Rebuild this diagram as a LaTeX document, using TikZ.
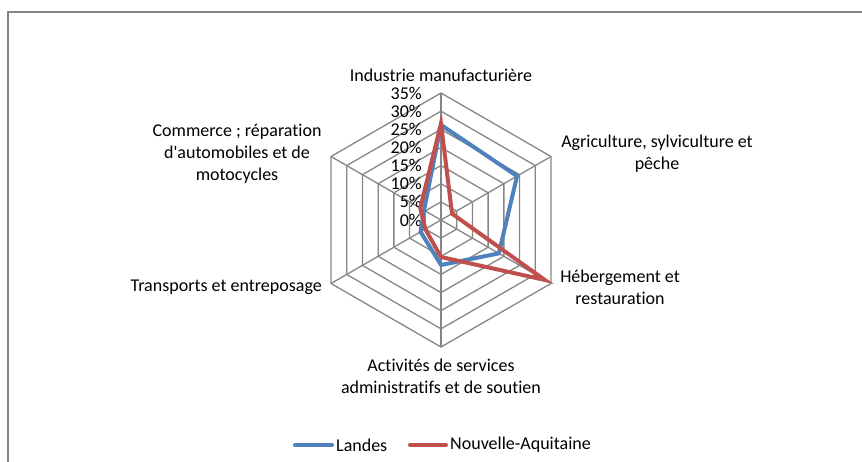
\documentclass[tikz,border=0pt]{standalone}
\usepackage{fontspec}
\setmainfont{Carlito}[Ligatures={TeXOff,NoCommon}]
\definecolor{gridgray}{HTML}{868686}
\definecolor{serblue}{HTML}{4F81BD}
\definecolor{serred}{HTML}{C0504D}
\begin{document}
\begin{tikzpicture}[x=1pt,y=-1pt,
  every node/.style={font=\fontsize{18}{22}\selectfont, inner sep=0pt, text=black},
  frame/.style={draw=gridgray, line width=1.5pt},
  gridline/.style={draw=gridgray, line width=1.3pt},
  series/.style={line width=4pt, line join=miter},
  lbl/.style={align=center}]
\useasboundingbox (0,0) rectangle (862,461);
\draw[frame] (8,480) -- (8,12) -- (880,12);
\begin{scope}[shift={(441,220)}, x=1pt, y=1pt]
  \def\u{3.6286}
  \foreach \k in {1,...,7}{
    \draw[gridline] (90:\k*18.143) -- (30:\k*18.143) -- (-30:\k*18.143) -- (-90:\k*18.143) -- (210:\k*18.143) -- (150:\k*18.143) -- cycle;
  }
  \foreach \a in {90,30,-30,-90,210,150}{
    \draw[gridline] (0,0) -- (\a:127);
  }
  \foreach \k/\t in {0/0\%,1/5\%,2/10\%,3/15\%,4/20\%,5/25\%,6/30\%,7/35\%}{
    \node[anchor=east] (tick\k) at (-19,\k*18.143) {\t};
  }
  \draw[series, serblue] (90:26.2*\u) -- (30:24.2*\u) -- (-30:18.4*\u) -- (-90:12.4*\u) -- (210:6.5*\u) -- (150:5.4*\u) -- cycle;
  \draw[series, serred] (90:26.6*\u) -- (30:3.5*\u) -- (-30:33*\u) -- (-90:10.2*\u) -- (210:5*\u) -- (150:6.6*\u) -- cycle;
\end{scope}
\node[lbl] (ind) at (441,75) {Industrie manufacturière};
\node[lbl] (agr) at (657,154) {Agriculture, sylviculture et\\pêche};
\node[lbl] (heb) at (620,287) {Hébergement et\\restauration};
\node[lbl] (act) at (441,376.5) {Activités de services\\administratifs et de soutien};
\node[anchor=east] (tra) at (322,287) {Transports et entreposage};
\node[lbl] (com) at (237,154) {Commerce ; réparation\\d'automobiles et de\\motocycles};
\coordinate (lb1) at (295,445);
\coordinate (lb2) at (332,445);
\coordinate (lr1) at (410,445);
\coordinate (lr2) at (446,445);
\draw[serblue, line width=4pt, line cap=round] (lb1) -- (lb2);
\draw[serred, line width=4pt, line cap=round] (lr1) -- (lr2);
\node[anchor=west] (leg1) at (336,445) {Landes};
\node[anchor=west] (leg2) at (450,445) {Nouvelle-Aquitaine};
\end{tikzpicture}
\end{document}
